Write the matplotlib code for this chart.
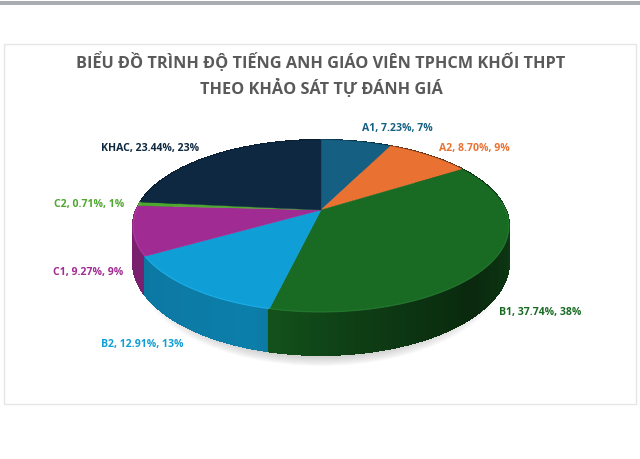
import numpy as np
import matplotlib
matplotlib.use("Agg")
import matplotlib.pyplot as plt
from matplotlib.patches import Polygon, Rectangle, Ellipse
from matplotlib.colors import to_rgb

categories = ["A1", "A2", "B1", "B2", "C1", "C2", "KHAC"]
percents = [7.23, 8.70, 37.74, 12.91, 9.27, 0.71, 23.44]
colors = ["#156082", "#E97132", "#196B24", "#0F9ED5", "#A02B93", "#4EA72E", "#0E2841"]
title = "BIỂU ĐỒ TRÌNH ĐỘ TIẾNG ANH GIÁO VIÊN TPHCM KHỐI THPT\nTHEO KHẢO SÁT TỰ ĐÁNH GIÁ"
label_pos = [(397, 128), (474, 148), (540, 313), (142, 344), (88, 273), (89, 204), (150, 148)]

CX, CY, A, B, K, DEPTH = 321, 210, 184.7, 83, 0.186, 35

def project(theta, drop=0.0):
    u, v = np.sin(theta), np.cos(theta)
    w = 1 + K * v
    return CX + A * u / w, CY - B * v / w + drop / w

fig = plt.figure(figsize=(6.4, 4.59), dpi=100)
ax = fig.add_axes([0, 0, 1, 1])
ax.set_xlim(0, 640)
ax.set_ylim(459, 0)
ax.axis("off")
ax.add_patch(Rectangle((0, 1), 640, 4, fc="#A9ADB1", ec="none"))
ax.add_patch(Rectangle((4, 43.5), 632, 360.5, fc="white", ec="#E6E6E6", lw=1))

ax.text(321, 75, title, ha="center", va="center", fontsize=11.7, fontweight="bold",
        family="Open Sans", color="#595959", linespacing=1.42)

# soft shadow under the pie
for g in np.linspace(1, 0, 10):
    ax.add_patch(Ellipse((321, 270), 2 * (170 + 14 * g), 2 * (88 + 8 * g),
                         fc="#808080", ec="none", alpha=0.035))

edges = np.concatenate([[0], np.cumsum(percents)]) / sum(percents) * 2 * np.pi

# side wall
side = []
for i, c in enumerate(colors):
    n = max(3, int((edges[i + 1] - edges[i]) / 0.012))
    t = np.linspace(edges[i], edges[i + 1], n + 1)
    for a, b in zip(t[:-1], t[1:]):
        side.append((np.cos((a + b) / 2), a, b, c))
side.sort(key=lambda s: -s[0])
for _, a, b, c in side:
    mid = np.sin((a + b) / 2)
    f = np.interp(mid, [-1, -0.3, 0.1, 0.7, 0.95, 1], [0.75, 0.8, 0.6, 0.38, 0.5, 0.62])
    col = tuple(np.array(to_rgb(c)) * f)
    xa, ya = project(a)
    xb, yb = project(b)
    xc, yc = project(b, DEPTH)
    xd, yd = project(a, DEPTH)
    ax.add_patch(Polygon([(xa, ya), (xb, yb), (xc, yc), (xd, yd)], fc=col, ec=col, lw=0.8,
                         antialiased=False))

# top face
for i, c in enumerate(colors):
    t = np.linspace(edges[i], edges[i + 1], 200)
    x, y = project(t)
    ax.add_patch(Polygon(np.r_[[[CX, CY]], np.c_[x, y]], fc=c, ec=c, lw=0.3))
    # bright rim along the front edge
    front = t[np.cos(t) < 0.1]
    if len(front) > 1:
        rim = tuple(np.minimum(1, np.array(to_rgb(c)) * 1.1 + 0.1))
        x, y = project(front)
        ax.plot(x, y, color=rim, lw=0.9, alpha=0.45, solid_capstyle="butt")

for name, p, c, (lx, ly) in zip(categories, percents, colors, label_pos):
    ax.text(lx, ly, f"{name}, {p:.2f}%, {round(p)}%", color=c, ha="center", va="center",
            fontsize=7.6, fontweight="bold", family="Open Sans")

fig.savefig("out.png", dpi=100)
